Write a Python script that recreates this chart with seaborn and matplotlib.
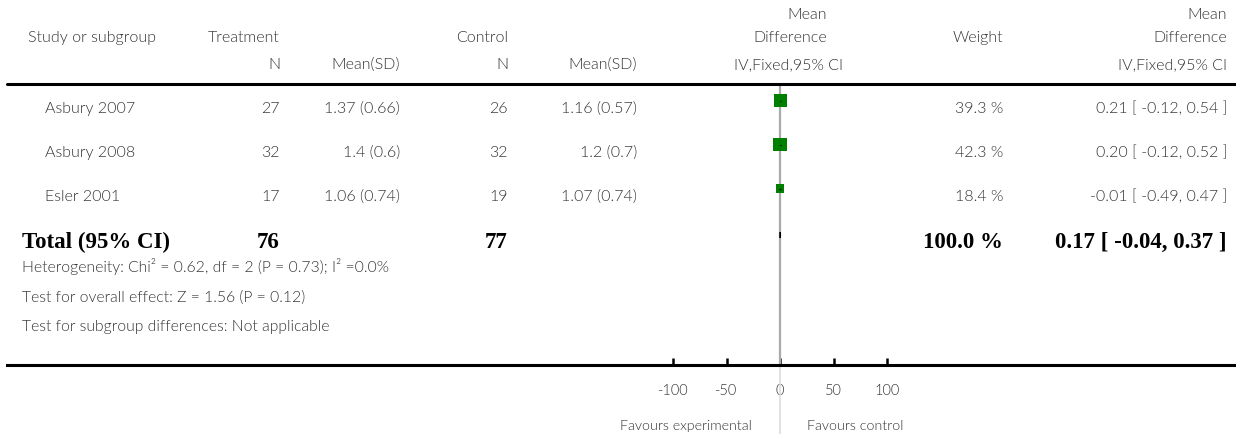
import matplotlib
matplotlib.use("Agg")
import matplotlib.pyplot as plt
import seaborn as sns
import pandas as pd
from matplotlib.lines import Line2D

# ---- data ----
studies = ["Asbury 2007", "Asbury 2008", "Esler 2001"]
trt_n = [27, 32, 17]
trt_mean = [1.37, 1.4, 1.06]
trt_sd = [0.66, 0.6, 0.74]
ctl_n = [26, 32, 19]
ctl_mean = [1.16, 1.2, 1.07]
ctl_sd = [0.57, 0.7, 0.74]
md = [0.21, 0.20, -0.01]
ci_lo = [-0.12, -0.12, -0.49]
ci_hi = [0.54, 0.52, 0.47]
weight = [39.3, 42.3, 18.4]

total_trt_n = 76
total_ctl_n = 77
total_weight = 100.0
total_md = 0.17
total_lo = -0.04
total_hi = 0.37

footnotes = [
    "Heterogeneity: Chi\u00b2 = 0.62, df = 2 (P = 0.73); I\u00b2 =0.0%",
    "Test for overall effect: Z = 1.56 (P = 0.12)",
    "Test for subgroup differences: Not applicable",
]
axis_ticks = [-100, -50, 0, 50, 100]
favours_left = "Favours experimental"
favours_right = "Favours control"

# ---- style ----
sns.set_theme(style="white")
plt.rcParams["font.family"] = ["Lato", "DejaVu Sans"]
TXT = "#333333"
GREEN = "#008000"
FS = 11.5
LIGHT = 300

W, H = 1236, 434
fig = plt.figure(figsize=(W / 100, H / 100), dpi=100)

# forest axes: spans the table width; y measured in pixel rows from the top
ax_left, ax_right, ax_bottom = 7, 1236, 365
ax = fig.add_axes([ax_left / W, 1 - ax_bottom / H, (ax_right - ax_left) / W, ax_bottom / H])
px_per_unit = 1.07
zero_px = 780
ax.set_xlim((ax_left - zero_px) / px_per_unit, (ax_right - zero_px) / px_per_unit)
ax.set_ylim(ax_bottom, 0)
ax.patch.set_alpha(0)

row_y = [100.5, 144.5, 188.5]
total_y = 235
text_base = [113, 157, 201]
total_base = 248


def put(px, py, s, ha="left", size=FS, weight=LIGHT, family=None, color=TXT):
    kw = {}
    if family is not None:
        kw["family"] = family
    fig.text(px / W, 1 - py / H, s, ha=ha, va="baseline", fontsize=size,
             fontweight=weight, color=color, **kw)


# zero reference line
ax.vlines(0, 84, ax_bottom, color="#aaaaaa", lw=1.6, zorder=1)
ax.vlines(0, ax_bottom, 434, color="#dddddd", lw=1.2, zorder=1, clip_on=False)

# study squares (area proportional to weight) and confidence intervals
df = pd.DataFrame({"study": studies, "md": md, "y": row_y, "weight": weight})
sns.scatterplot(data=df, x="md", y="y", size="weight", sizes=(0, 223),
                size_norm=(0, 100), marker="s", color=GREEN, edgecolor="none",
                legend=False, ax=ax, zorder=3)
ax.hlines(row_y, ci_lo, ci_hi, color="black", lw=1.0, zorder=4)

# pooled estimate diamond
h = 3
ax.fill([total_lo, total_md, total_hi, total_md],
        [total_y, total_y - h, total_y, total_y + h], color="black", lw=0.8,
        edgecolor="black", zorder=4)

# axis
for side in ["left", "right", "top"]:
    ax.spines[side].set_visible(False)
ax.spines["bottom"].set_linewidth(2.2)
ax.spines["bottom"].set_color("black")
ax.set_yticks([])
ax.set_xticks(axis_ticks)
ax.set_xticklabels([str(t) for t in axis_ticks], fontweight=LIGHT)
ax.tick_params(axis="x", direction="in", length=5, width=1.8, color="black",
               labelcolor=TXT, labelsize=10.5, pad=14, bottom=True)
ax.set_xlabel("")
ax.set_ylabel("")

# header separator
fig.add_artist(Line2D([ax_left / W, 1], [1 - 84 / H, 1 - 84 / H], color="black", lw=2.2))

# headers
put(28, 42, "Study or subgroup")
put(280, 42, "Treatment", ha="right")
put(508, 42, "Control", ha="right")
put(827, 19, "Mean", ha="right")
put(827, 42, "Difference", ha="right")
put(1003, 42, "Weight", ha="right")
put(1227, 19, "Mean", ha="right")
put(1227, 42, "Difference", ha="right")
put(280, 69, "N", ha="right")
put(400, 69, "Mean(SD)", ha="right")
put(508, 69, "N", ha="right")
put(637, 69, "Mean(SD)", ha="right")
put(789, 69, "IV,Fixed,95% CI", ha="center")
put(1227, 69, "IV,Fixed,95% CI", ha="right")

# study rows
for i, name in enumerate(studies):
    yb = text_base[i]
    put(45, yb, name)
    put(280, yb, str(trt_n[i]), ha="right")
    put(400, yb, f"{trt_mean[i]} ({trt_sd[i]})", ha="right")
    put(508, yb, str(ctl_n[i]), ha="right")
    put(637, yb, f"{ctl_mean[i]} ({ctl_sd[i]})", ha="right")
    put(1003, yb, f"{weight[i]:.1f} %", ha="right")
    put(1227, yb, f"{md[i]:.2f} [ {ci_lo[i]:.2f}, {ci_hi[i]:.2f} ]", ha="right")

# total row
serif = ["Liberation Serif", "DejaVu Serif"]
TS = 16.5
put(22, total_base, "Total (95% CI)", size=TS, weight="bold", family=serif, color="black")
put(280, total_base, str(total_trt_n), ha="right", size=TS, weight="bold", family=serif, color="black")
put(508, total_base, str(total_ctl_n), ha="right", size=TS, weight="bold", family=serif, color="black")
put(1003, total_base, f"{total_weight:.1f} %", ha="right", size=TS, weight="bold", family=serif, color="black")
put(1227, total_base, f"{total_md:.2f} [ {total_lo:.2f}, {total_hi:.2f} ]", ha="right",
    size=TS, weight="bold", family=serif, color="black")

# footnotes
for yb, s in zip([272, 302, 331], footnotes):
    put(22, yb, s, size=11.3)

# favours labels
put(752, 430, favours_left, ha="right", size=10.3)
put(807, 430, favours_right, ha="left", size=10.3)

fig.savefig("out.png", dpi=100)
